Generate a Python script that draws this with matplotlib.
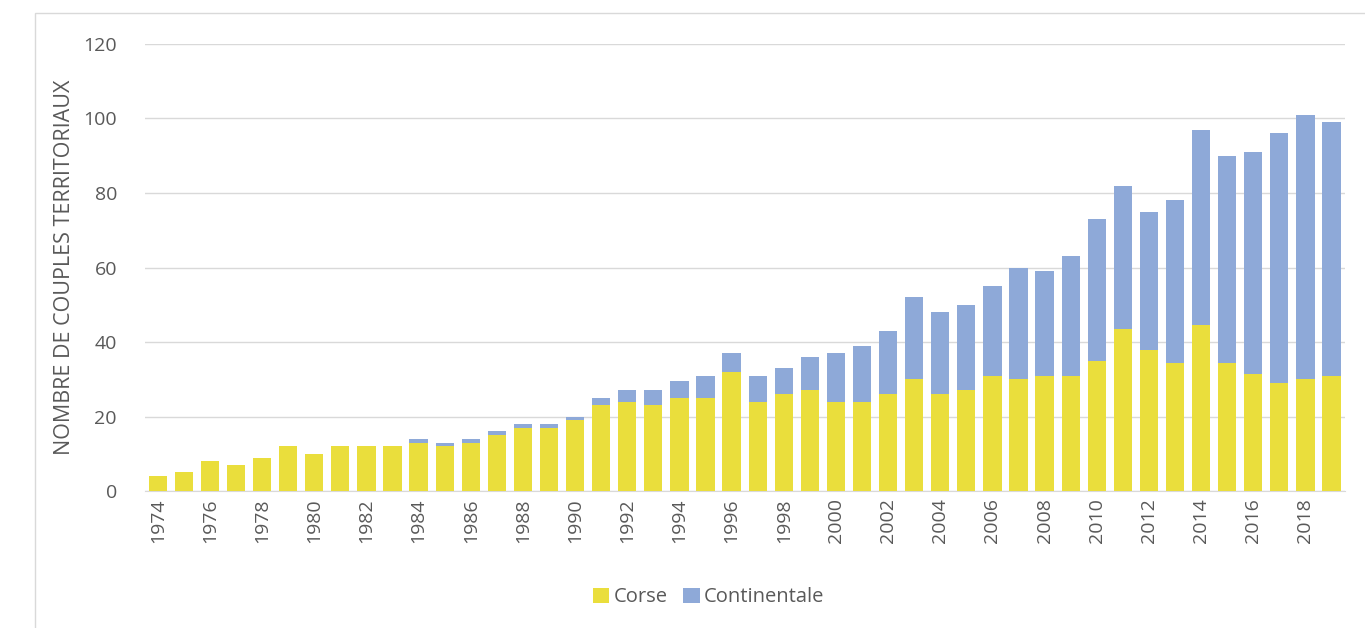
import numpy as np
import matplotlib.pyplot as plt
from matplotlib.patches import Rectangle

plt.rcParams['font.family'] = ['Open Sans', 'DejaVu Sans']

years = list(range(1974, 2020))
corse = [4, 5, 8, 7, 9, 12, 10, 12, 12, 12,
         13, 12, 13, 15, 17, 17, 19, 23, 24, 23,
         25, 25, 32, 24, 26, 27, 24, 24, 26, 30,
         26, 27, 31, 30, 31, 31, 35, 43.5, 38, 34.5,
         44.5, 34.5, 31.5, 29, 30, 31]
total = [4, 5, 8, 7, 9, 12, 10, 12, 12, 12,
         14, 13, 14, 16, 18, 18, 20, 25, 27, 27,
         29.5, 31, 37, 31, 33, 36, 37, 39, 43, 52,
         48, 50, 55, 60, 59, 63, 73, 82, 75, 78,
         97, 90, 91, 96, 101, 99]
continentale = [t - c for t, c in zip(total, corse)]

yellow = '#EADE3C'
blue = '#8EA9D8'
grey_txt = '#595959'

fig = plt.figure(figsize=(13.65, 6.28), dpi=100)
ax = fig.add_axes([0.106, 0.218, 0.879, 0.712])

x = np.array(years)
ax.bar(x, corse, width=0.7, color=yellow, label='Corse', zorder=3)
ax.bar(x, continentale, width=0.7, bottom=corse, color=blue, label='Continentale', zorder=3)

ax.set_ylim(0, 120)
ax.set_xlim(1974 - 0.5, 2019 + 0.5)
ax.set_yticks(range(0, 121, 20))
ax.set_xticks(years[::2])
ax.set_xticklabels([str(y) for y in years[::2]], rotation=90)
ax.yaxis.grid(True, color='#D9D9D9', linewidth=1, zorder=0)
ax.tick_params(axis='both', length=0, labelsize=14, colors=grey_txt)
ax.tick_params(axis='y', pad=20)
ax.tick_params(axis='x', pad=5)
for s in ['top', 'right', 'left']:
    ax.spines[s].set_visible(False)
ax.spines['bottom'].set_color('#D9D9D9')
ax.set_ylabel('NOMBRE DE COUPLES TERRITORIAUX', fontsize=15.5, color=grey_txt, labelpad=6)

ax.legend(loc='upper center', bbox_to_anchor=(0.47, -0.175), ncol=2, frameon=False,
          fontsize=14.5, handlelength=0.8, handleheight=0.8, handletextpad=0.2,
          columnspacing=0.8, labelcolor=grey_txt)

fig.patches.append(Rectangle((0.026, -0.01), 1.0, 0.99, transform=fig.transFigure,
                             fill=False, edgecolor='#D9D9D9', linewidth=1))

fig.savefig('out.png', dpi=100)
